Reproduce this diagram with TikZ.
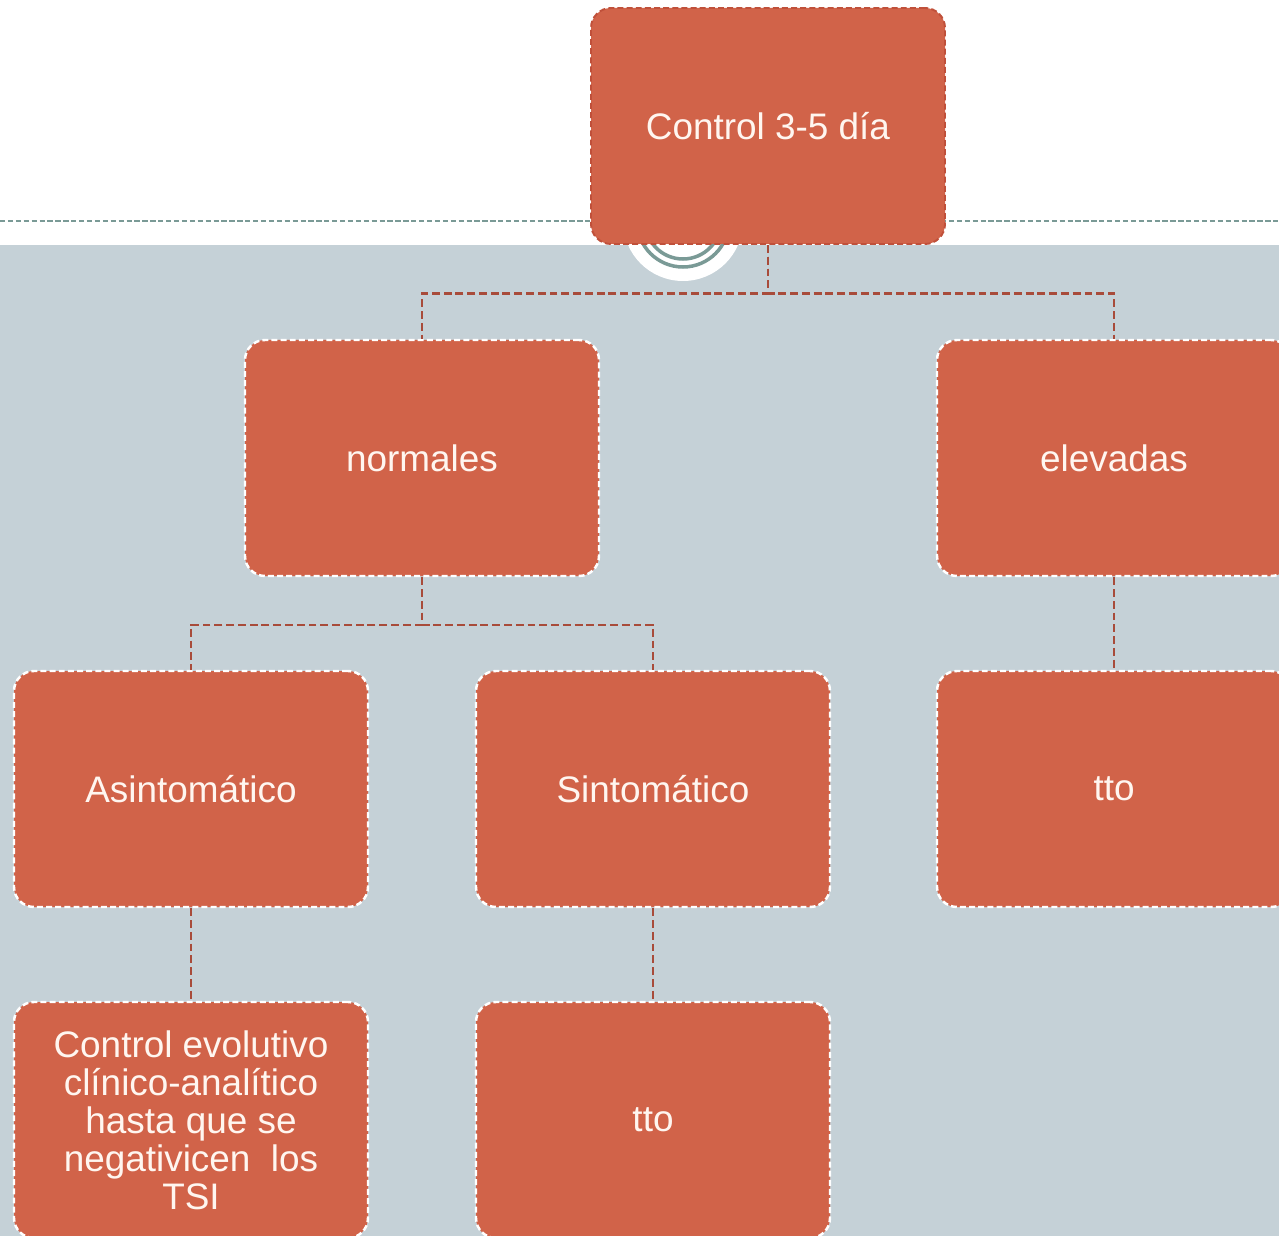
\documentclass[tikz,border=0pt]{standalone}
\usepackage{fontspec}
\setmainfont{Liberation Sans}
\definecolor{boxfill}{HTML}{D16349}
\definecolor{rootedge}{HTML}{C0503A}
\definecolor{linkred}{HTML}{A84B3A}
\definecolor{panel}{HTML}{C5D1D7}
\definecolor{teal}{HTML}{7A9A96}
\definecolor{cream}{HTML}{FFF6F0}
\begin{document}
\begin{tikzpicture}[
  box/.style={rectangle, rounded corners=0.4cm, fill=boxfill, draw=white, line width=1.4pt,
    dash pattern=on 3.4pt off 1.8pt, minimum width=7.08cm, minimum height=4.72cm,
    text=cream, align=center, font=\fontsize{21}{21.6}\selectfont},
  link/.style={draw=linkred, line width=1.3pt, dash pattern=on 4.5pt off 2.2pt}]

% frame and backdrop
\clip (0,0) rectangle (25.58,-24.72);
\fill[white] (0,0) rectangle (25.58,-24.72);
\fill[panel] (0,-4.9) rectangle (25.58,-24.72);
\draw[teal, line width=0.8pt, dash pattern=on 3pt off 1.5pt] (0,-4.42) -- (25.58,-4.42);
\fill[white] (13.66,-4.42) circle (1.2cm);
\draw[teal, line width=2pt] (13.66,-4.42) circle (0.76cm);
\draw[teal, line width=2pt] (13.66,-4.42) circle (0.92cm);

% first level
\node[box, draw=rootedge, line width=1.1pt] (root) at (15.36,-2.52) {Control 3-5 día};
\node[box, below of=root, node distance=6.64cm, xshift=-6.92cm] (normales) {normales};
\node[box, right of=normales, node distance=13.84cm] (elevadas) {elevadas};

% second level
\node[box, below of=normales, node distance=6.62cm, xshift=-4.62cm] (asint) {Asintomático};
\node[box, right of=asint, node distance=9.24cm] (sint) {Sintomático};
\node[box, below of=elevadas, node distance=6.62cm] (ttoA) {tto};

% third level
\node[box, below of=asint, node distance=6.62cm] (evol) {Control evolutivo\\clínico-analítico\\hasta que se\\negativicen~ los\\TSI};
\node[box, below of=sint, node distance=6.62cm] (ttoB) {tto};

% links
\draw[link] (root.south) -- ++(0,-0.97) -| (normales.north);
\draw[link] (root.south) -- ++(0,-0.97) -| (elevadas.north);
\draw[link] (normales.south) -- ++(0,-0.95) -| (asint.north);
\draw[link] (normales.south) -- ++(0,-0.95) -| (sint.north);
\draw[link] (elevadas) -- (ttoA);
\draw[link] (asint) -- (evol);
\draw[link] (sint) -- (ttoB);

\end{tikzpicture}
\end{document}
